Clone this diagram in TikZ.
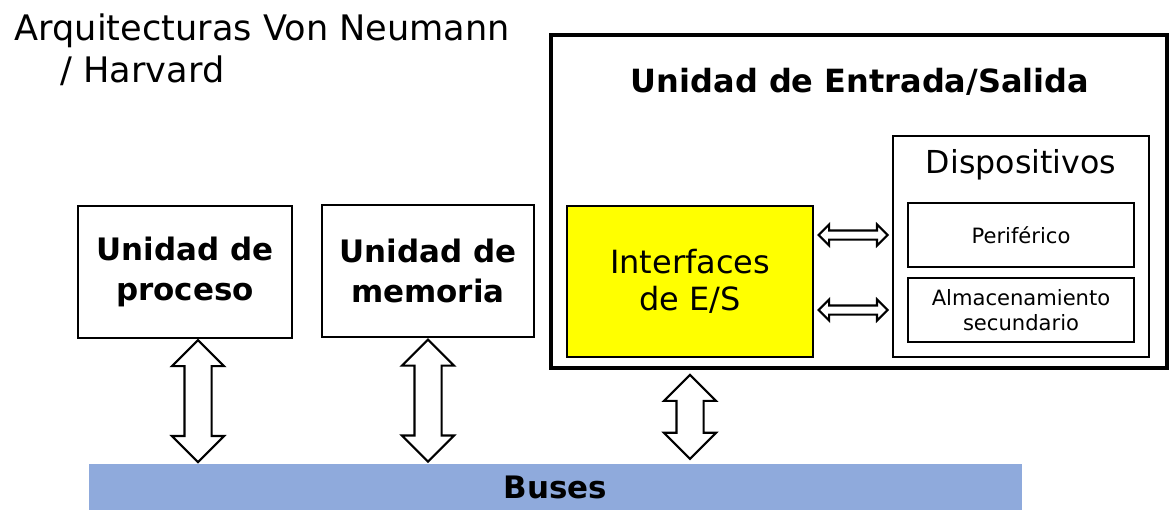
\documentclass[tikz,border=0pt]{standalone}
\usepackage{fontspec}
\setmainfont{DejaVu Sans}
\usetikzlibrary{shapes.arrows,calc}
\tikzset{>=latex}
\definecolor{buscol}{HTML}{8FAADC}
\definecolor{ifacecol}{RGB}{255,255,0}
\tikzstyle{unit}=[draw,line width=0.6pt,inner sep=0,align=center]
\tikzstyle{dev}=[unit,minimum width=2.26cm,minimum height=0.64cm,font=\fontsize{6}{7.1}\selectfont]
\tikzstyle{vbusarrow}=[double arrow,draw,line width=0.6pt,fill=white,rotate=90,inner sep=0.125cm,double arrow head extend=0.125cm]
\tikzstyle{hbusarrow}=[double arrow,draw,line width=0.6pt,fill=white,inner sep=0.035cm,double arrow head extend=0.06cm,minimum height=0.69cm]
\newcommand\unitfont{\fontsize{8.8}{11.4}\selectfont\bfseries}

\begin{document}
\begin{tikzpicture}
  \useasboundingbox (0,0) rectangle (11.75,5.25);

  % TITLE
  \node[anchor=north west,inner sep=0,align=left,font=\fontsize{10}{12}\selectfont] (title) at (0.14,5.12)
    {Arquitecturas Von Neumann\\\hspace*{1.3em}/ Harvard};

  % UNITS
  \node[unit,minimum width=2.14cm,minimum height=1.32cm,font=\unitfont] (proc) at (1.85,2.53) {Unidad de\\proceso};
  \node[unit,minimum width=2.12cm,minimum height=1.32cm,font=\unitfont] (mem) at (4.28,2.54) {Unidad de\\memoria};

  % E/S UNIT
  \node[draw,line width=1.4pt,minimum width=6.16cm,minimum height=3.33cm] (es) at (8.59,3.235) {};
  \node[font=\fontsize{9.1}{11}\selectfont\bfseries] (estitle) at (8.60,4.43) {Unidad de Entrada/Salida};
  \node[unit,fill=ifacecol,minimum width=2.46cm,minimum height=1.51cm,font=\fontsize{9.1}{10.5}\selectfont] (iface) at (6.90,2.435) {Interfaces\\de E/S};
  \node[unit,minimum width=2.56cm,minimum height=2.21cm] (disp) at (10.21,2.785) {};
  \node[font=\fontsize{9}{11}\selectfont] (disptitle) at (10.21,3.60) {Dispositivos};
  \node[dev] (perif) at (10.21,2.90) {Periférico};
  \node[dev] (almac) at (10.21,2.15) {Almacenamiento\\secundario};

  % BUS
  \node[fill=buscol,minimum width=9.33cm,minimum height=0.44cm,font=\unitfont] (bus) at (5.555,0.38) {Buses};

  % ARROWS
  \node[vbusarrow,minimum height=1.22cm] (aproc) at ($(proc.south)!0.5!(proc.south |- bus.north)+(0.13,0)$) {};
  \node[vbusarrow,minimum height=1.22cm] (amem) at ($(mem.south)!0.5!(mem.south |- bus.north)$) {};
  \node[vbusarrow,minimum height=0.84cm] (aes) at ($(iface.south |- es.south)!0.5!(iface.south |- bus.north)$) {};
  \node[hbusarrow] (aperif) at ($(iface.east |- perif)!0.5!(disp.west |- perif)$) {};
  \node[hbusarrow] (aalmac) at ($(iface.east |- almac)!0.5!(disp.west |- almac)$) {};
\end{tikzpicture}
\end{document}
